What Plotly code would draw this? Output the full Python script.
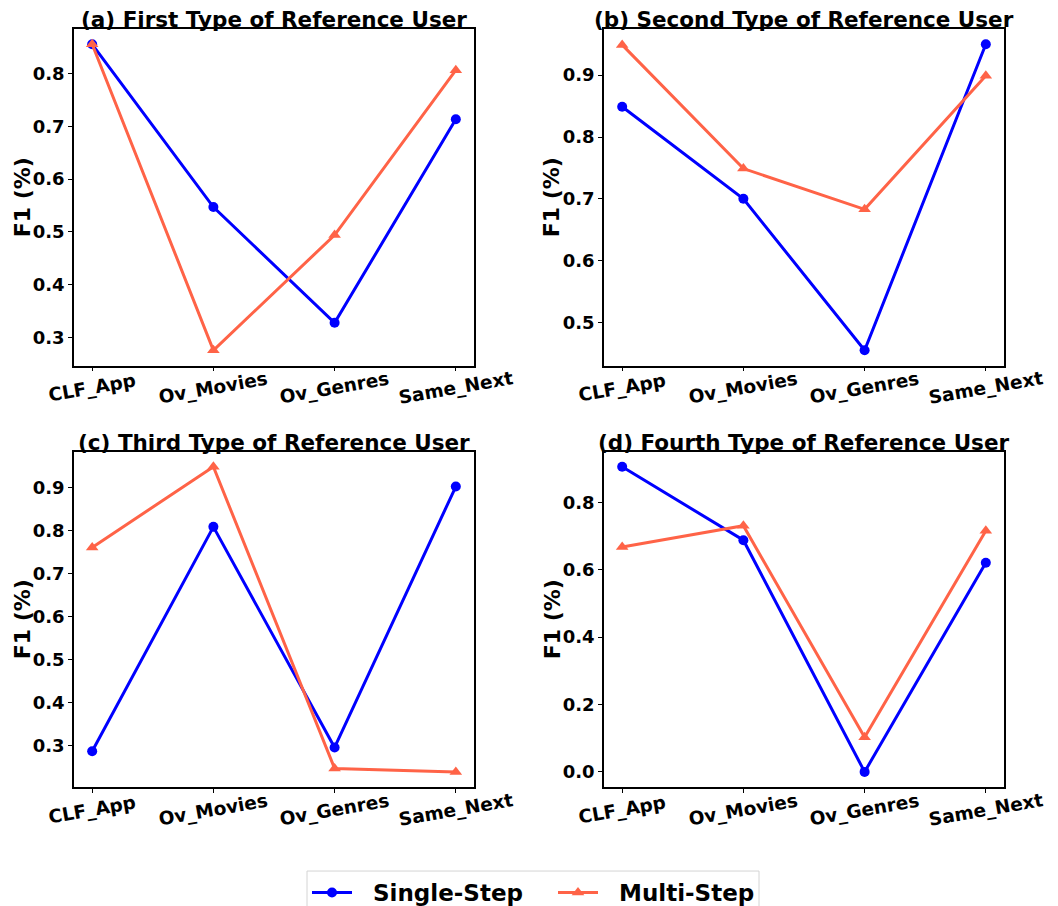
import plotly.graph_objects as go

categories = ["CLF_App", "Ov_Movies", "Ov_Genres", "Same_Next"]

single_a = [0.855, 0.547, 0.328, 0.713]
multi_a = [0.855, 0.276, 0.494, 0.806]
single_b = [0.849, 0.700, 0.455, 0.950]
multi_b = [0.949, 0.749, 0.683, 0.899]
single_c = [0.286, 0.809, 0.295, 0.903]
multi_c = [0.761, 0.949, 0.246, 0.238]
single_d = [0.906, 0.688, 0.000, 0.621]
multi_d = [0.668, 0.731, 0.103, 0.716]

titles = ["(a) First Type of Reference User", "(b) Second Type of Reference User",
          "(c) Third Type of Reference User", "(d) Fourth Type of Reference User"]
ytick_vals = [
    [0.3, 0.4, 0.5, 0.6, 0.7, 0.8],
    [0.5, 0.6, 0.7, 0.8, 0.9],
    [0.3, 0.4, 0.5, 0.6, 0.7, 0.8, 0.9],
    [0.0, 0.2, 0.4, 0.6, 0.8],
]

W, H = 1058, 906
OFF = 8  # page body margin offsets the figure in the browser
FONT = "DejaVu Sans"
BLUE = "#0000FF"
TOMATO = "#FF6347"
NB = "\u00a0"


def px(x):
    return (x - OFF) / W


def py(y):
    return (H - (y - OFF)) / H


# pixel boxes of plot areas on the page (left, right, top, bottom)
boxes = [(74, 474, 29, 366), (604, 1004, 29, 366), (74, 474, 452, 788), (604, 1004, 452, 788)]
ytitle_x = [22, 551, 22, 552]

panels = [(single_a, multi_a), (single_b, multi_b), (single_c, multi_c), (single_d, multi_d)]

fig = go.Figure()
annotations = []
layout_axes = {}
for i, (s, m) in enumerate(panels):
    n = "" if i == 0 else str(i + 1)
    xa, ya = "x" + n, "y" + n
    fig.add_trace(go.Scatter(x=categories, y=s, mode="lines+markers", name=NB * 2 + "Single-Step",
                             line=dict(color=BLUE, width=3), marker=dict(symbol="circle", size=10, color=BLUE),
                             xaxis=xa, yaxis=ya, showlegend=(i == 0), legend="legend"))
    fig.add_trace(go.Scatter(x=categories, y=m, mode="lines+markers", name=NB * 2 + "Multi-Step",
                             line=dict(color=TOMATO, width=3), marker=dict(symbol="triangle-up", size=11, color=TOMATO),
                             xaxis=xa, yaxis=ya, showlegend=(i == 0), legend="legend2"))
    l, r, t, b = boxes[i]
    xd = [px(l), px(r)]
    yd = [py(b), py(t)]
    lo = min(s + m)
    hi = max(s + m)
    span = hi - lo
    yr = [lo - 0.05 * span, hi + 0.05 * span]
    layout_axes["xaxis" + n] = dict(domain=xd, anchor=ya, type="category", range=[-0.15, 3.15],
                                    showticklabels=False, ticks="outside", ticklen=4, tickwidth=1, tickcolor="black",
                                    showline=True, linecolor="black", linewidth=1.5, mirror=True,
                                    showgrid=False, zeroline=False)
    layout_axes["yaxis" + n] = dict(domain=yd, anchor=xa, range=yr, tickvals=ytick_vals[i], tickformat=".1f",
                                    ticks="outside", ticklen=4, tickwidth=1, tickcolor="black",
                                    tickfont=dict(family=FONT, size=18, color="black", weight="bold"),
                                    showline=True, linecolor="black", linewidth=1.5, mirror=True,
                                    showgrid=False, zeroline=False)
    # subplot title
    annotations.append(dict(text=titles[i], x=(xd[0] + xd[1]) / 2, y=yd[1], xref="paper", yref="paper",
                            xanchor="center", yanchor="bottom", showarrow=False, yshift=-5,
                            font=dict(family=FONT, size=21.5, color="black", weight="bold")))
    # y-axis title
    annotations.append(dict(text="F1 (%)", x=px(ytitle_x[i]), y=(yd[0] + yd[1]) / 2, xref="paper", yref="paper",
                            xanchor="center", yanchor="middle", showarrow=False, textangle=-90,
                            font=dict(family=FONT, size=22, color="black", weight="bold")))
    # x tick labels (rotated, centred on ticks as in the original)
    for c in categories:
        annotations.append(dict(text=c, x=c, xref=xa, y=yd[0] - 22 / H, yref="paper",
                                xanchor="center", yanchor="middle", showarrow=False, textangle=-10,
                                font=dict(family=FONT, size=18.5, color="black", weight="bold")))

legend_font = dict(family=FONT, size=23, color="black", weight="bold")
leg_top = py(872)

fig.update_layout(
    width=W, height=H,
    margin=dict(l=0, r=0, t=0, b=0),
    paper_bgcolor="white", plot_bgcolor="white",
    font=dict(family=FONT, color="black"),
    annotations=annotations,
    shapes=[dict(type="rect", xref="paper", yref="paper", x0=px(307), x1=px(759),
                 y0=-0.02, y1=leg_top, line=dict(color="#d4d4d4", width=1), fillcolor="rgba(0,0,0,0)")],
    legend=dict(orientation="h", x=px(307), xanchor="left", y=leg_top, yanchor="top",
                font=legend_font, borderwidth=0, bgcolor="rgba(0,0,0,0)", itemwidth=40),
    legend2=dict(orientation="h", x=px(553), xanchor="left", y=leg_top, yanchor="top",
                 font=legend_font, borderwidth=0, bgcolor="rgba(0,0,0,0)", itemwidth=40),
    **layout_axes,
)

fig.write_html("out.html")
